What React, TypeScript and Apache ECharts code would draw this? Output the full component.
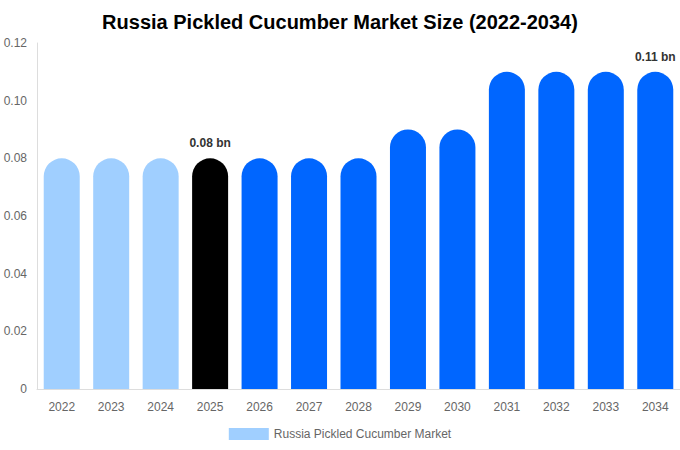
import React, { useEffect, useRef } from "react";
import * as echarts from "echarts";

const years = ["2022", "2023", "2024", "2025", "2026", "2027", "2028", "2029", "2030", "2031", "2032", "2033", "2034"];
const marketSize = [0.08, 0.08, 0.08, 0.08, 0.08, 0.08, 0.08, 0.09, 0.09, 0.11, 0.11, 0.11, 0.11];
const labeledYears = ["2025", "2034"];

const HISTORIC = "#a0cfff";
const CURRENT = "#000000";
const FORECAST = "#0066ff";

const App: React.FC = () => {
  const chartRef = useRef<HTMLDivElement>(null);

  useEffect(() => {
    if (!chartRef.current) return;
    document.body.style.margin = "0";

    const chart = echarts.init(chartRef.current, null, { renderer: "svg" });

    const data = marketSize.map((v, i) => {
      const y = Number(years[i]);
      const color = y < 2025 ? HISTORIC : y === 2025 ? CURRENT : FORECAST;
      return {
        value: v,
        itemStyle: { color },
        label: {
          show: labeledYears.includes(years[i]),
          position: "top" as const,
          distance: 9,
          formatter: (p: any) => `${p.value} bn`,
          fontWeight: "bold" as const,
          fontSize: 12,
          color: "#333",
        },
      };
    });

    const option: echarts.EChartsOption = {
      animation: false,
      title: {
        text: "Russia Pickled Cucumber Market Size (2022-2034)",
        left: "center",
        top: 7,
        textStyle: { fontSize: 20, fontWeight: "bold", color: "#000", fontFamily: "Liberation Sans" },
      },
      textStyle: { fontFamily: "Liberation Sans" },
      grid: { left: 37, right: 0, top: 43, bottom: 61 },
      legend: {
        bottom: 5,
        left: "center",
        icon: "rect",
        itemWidth: 40,
        itemHeight: 12,
        textStyle: { color: "#666", fontSize: 12 },
        data: [{ name: "Russia Pickled Cucumber Market", itemStyle: { color: HISTORIC } }],
      },
      xAxis: {
        type: "category",
        data: years,
        axisTick: { show: false },
        axisLine: { lineStyle: { color: "#ddd" } },
        axisLabel: { color: "#666", fontSize: 12, margin: 12 },
      },
      yAxis: {
        type: "value",
        min: 0,
        max: 0.12,
        interval: 0.02,
        axisLine: { show: true, lineStyle: { color: "#ddd" } },
        splitLine: { show: false },
        axisLabel: {
          color: "#666",
          fontSize: 12,
          margin: 10,
          formatter: (v: number) => (v === 0 ? "0" : v.toFixed(2)),
        },
      },
      series: [
        {
          name: "Russia Pickled Cucumber Market",
          type: "bar",
          barWidth: 36,
          itemStyle: { borderRadius: [18, 18, 0, 0], color: HISTORIC },
          data,
        },
      ],
    };

    chart.setOption(option);

    return () => {
      chart.dispose();
    };
  }, []);

  return <div ref={chartRef} style={{ width: "680px", height: "450px" }} />;
};

export default App;
